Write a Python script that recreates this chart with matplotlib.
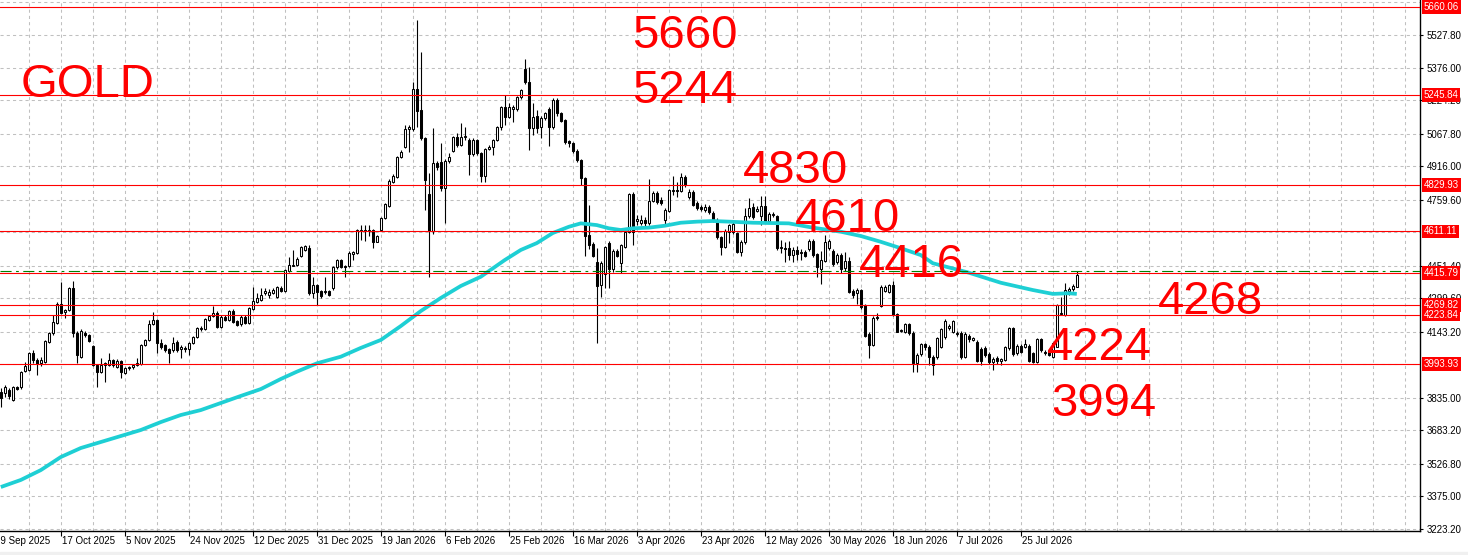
import matplotlib
matplotlib.use("Agg")
import matplotlib.pyplot as plt
from matplotlib.patches import Rectangle

# daily candles, GOLD
opens = [3864, 3856, 3872, 3825, 3886, 3884, 3961, 3965, 4043, 4010,
         3998, 4001, 4097, 4136, 4186, 4273, 4236, 4245, 4346, 4136,
         4027, 4139, 4128, 4077, 3988, 3957, 3990, 3988, 4012, 3981,
         4007, 3952, 3981, 3977, 3988, 3993, 4082, 4105, 4179, 4198,
         4090, 4082, 4062, 4058, 4097, 4065, 4068, 4065, 4090, 4117,
         4155, 4155, 4198, 4217, 4232, 4164, 4214, 4198, 4240, 4194,
         4179, 4214, 4186, 4250, 4284, 4292, 4325, 4315, 4326, 4307,
         4349, 4335, 4428, 4452, 4455, 4497, 4525, 4533, 4323, 4360,
         4334, 4330, 4334, 4346, 4444, 4478, 4450, 4450, 4508, 4512,
         4614, 4618, 4614, 4618, 4564, 4618, 4673, 4730, 4843, 4867,
         4957, 5004, 5090, 5088, 5276, 5178, 5046, 4786, 4615, 4929,
         4937, 4813, 4940, 4987, 5053, 5015, 5053, 5038, 4971, 5038,
         4976, 4871, 4995, 5007, 5038, 5097, 5190, 5147, 5181, 5181,
         5237, 5369, 5310, 5092, 5150, 5097, 5139, 5181, 5097, 5224,
         5162, 5131, 5033, 5022, 4985, 4944, 4859, 4595, 4553, 4470,
         4361, 4413, 4559, 4435, 4521, 4463, 4540, 4610, 4786, 4660,
         4649, 4665, 4652, 4755, 4792, 4758, 4665, 4708, 4800, 4805,
         4801, 4867, 4771, 4797, 4745, 4727, 4713, 4727, 4699, 4665,
         4584, 4540, 4610, 4610, 4603, 4517, 4564, 4683, 4724, 4707,
         4683, 4730, 4661, 4690, 4683, 4533, 4535, 4535, 4501, 4525,
         4510, 4517, 4528, 4568, 4506, 4435, 4475, 4533, 4521, 4470,
         4501, 4439, 4475, 4335, 4323, 4338, 4268, 4133, 4082, 4214,
         4264, 4335, 4330, 4361, 4226, 4148, 4144, 4179, 4137, 3996,
         4040, 4085, 4074, 4027, 4024, 4074, 4117, 4162, 4144, 4135,
         4139, 4027, 4124, 4105, 4097, 4062, 4066, 4040, 4004, 4020,
         4008, 4012, 4066, 4159, 4043, 4077, 4074, 4077, 4043, 4004,
         4108, 4050, 4058, 4027, 4074, 4225, 4222, 4335, 4341, 4354]
highs = [3881, 3895, 3880, 3892, 3890, 3962, 4000, 4050, 4058, 4020,
         4025, 4106, 4140, 4222, 4280, 4377, 4250, 4350, 4380, 4145,
         4155, 4145, 4135, 4080, 3995, 4021, 4000, 4044, 4018, 4015,
         4012, 3980, 3985, 3992, 4020, 4086, 4110, 4200, 4237, 4205,
         4110, 4088, 4068, 4120, 4105, 4080, 4075, 4095, 4122, 4165,
         4170, 4206, 4222, 4263, 4240, 4220, 4220, 4245, 4248, 4200,
         4220, 4220, 4258, 4354, 4326, 4346, 4348, 4345, 4346, 4356,
         4356, 4437, 4494, 4525, 4490, 4545, 4550, 4548, 4400, 4365,
         4340, 4400, 4340, 4450, 4485, 4485, 4455, 4518, 4520, 4625,
         4641, 4641, 4641, 4625, 4595, 4678, 4745, 4855, 4880, 4965,
         4990, 5108, 5110, 5310, 5598, 5450, 5050, 4882, 5094, 4940,
         5022, 4950, 4975, 5058, 5070, 5116, 5097, 5045, 5045, 5042,
         4980, 5000, 5015, 5042, 5102, 5195, 5248, 5210, 5200, 5242,
         5278, 5414, 5377, 5209, 5180, 5150, 5170, 5190, 5232, 5235,
         5168, 5135, 5040, 5030, 4995, 4950, 4865, 4735, 4560, 4533,
         4475, 4545, 4565, 4530, 4528, 4555, 4618, 4792, 4795, 4690,
         4690, 4680, 4855, 4800, 4800, 4770, 4720, 4810, 4870, 4840,
         4886, 4875, 4810, 4805, 4752, 4735, 4740, 4735, 4705, 4672,
         4590, 4622, 4648, 4660, 4610, 4570, 4719, 4766, 4745, 4730,
         4777, 4777, 4700, 4700, 4690, 4570, 4560, 4565, 4540, 4545,
         4530, 4525, 4575, 4575, 4510, 4520, 4595, 4575, 4530, 4510,
         4510, 4517, 4490, 4345, 4348, 4345, 4275, 4140, 4215, 4232,
         4360, 4360, 4365, 4382, 4232, 4155, 4185, 4185, 4145, 4045,
         4092, 4090, 4080, 4035, 4120, 4160, 4205, 4178, 4200, 4145,
         4145, 4140, 4135, 4120, 4105, 4070, 4075, 4048, 4025, 4030,
         4020, 4078, 4165, 4165, 4085, 4085, 4110, 4085, 4050, 4115,
         4115, 4058, 4065, 4097, 4275, 4307, 4372, 4350, 4365, 4428]
lows = [3792, 3840, 3830, 3820, 3872, 3878, 3955, 3960, 3996, 3942,
        3985, 3998, 4090, 4130, 4180, 4225, 4208, 4240, 4120, 3998,
        4020, 4120, 4095, 3985, 3887, 3950, 3911, 3985, 3980, 3975,
        3927, 3945, 3965, 3970, 3985, 3990, 4075, 4100, 4175, 4044,
        4065, 4050, 3996, 4050, 4050, 4020, 4050, 4035, 4085, 4112,
        4145, 4150, 4192, 4212, 4160, 4160, 4192, 4192, 4185, 4168,
        4172, 4180, 4180, 4245, 4278, 4285, 4315, 4300, 4320, 4300,
        4328, 4330, 4422, 4448, 4450, 4490, 4520, 4315, 4300, 4268,
        4300, 4320, 4310, 4340, 4438, 4440, 4400, 4445, 4478, 4505,
        4570, 4568, 4590, 4533, 4560, 4612, 4668, 4725, 4835, 4860,
        4952, 5000, 4984, 5080, 5100, 5040, 4711, 4400, 4600, 4900,
        4800, 4649, 4930, 4980, 5005, 5010, 5040, 4875, 4965, 4970,
        4841, 4841, 4990, 4968, 5032, 5085, 5108, 5140, 5120, 5175,
        5230, 5300, 4991, 5060, 5070, 5047, 5130, 5010, 5090, 5150,
        5120, 5020, 5004, 4975, 4935, 4828, 4497, 4530, 4490, 4092,
        4306, 4346, 4346, 4420, 4490, 4416, 4535, 4605, 4548, 4640,
        4640, 4630, 4640, 4748, 4740, 4735, 4641, 4700, 4780, 4770,
        4795, 4820, 4765, 4728, 4710, 4705, 4700, 4695, 4655, 4575,
        4501, 4535, 4557, 4600, 4510, 4497, 4555, 4675, 4670, 4700,
        4641, 4650, 4655, 4680, 4525, 4512, 4470, 4478, 4470, 4480,
        4478, 4490, 4520, 4490, 4397, 4366, 4470, 4525, 4450, 4460,
        4419, 4425, 4325, 4300, 4275, 4250, 4118, 4020, 4075, 4200,
        4258, 4328, 4325, 4215, 4140, 4140, 4138, 4130, 3957, 3957,
        4030, 4060, 3988, 3942, 4018, 4068, 4110, 4150, 4138, 4125,
        4018, 4020, 4095, 4098, 4000, 3990, 4025, 3995, 3965, 3995,
        3990, 4005, 4060, 4030, 4035, 4045, 4068, 4000, 3998, 3998,
        4050, 4035, 4028, 4020, 4070, 4220, 4215, 4315, 4335, 4350]
closes = [3834, 3887, 3844, 3887, 3878, 3957, 3983, 4043, 4012, 3995,
          4012, 4101, 4136, 4190, 4273, 4232, 4245, 4346, 4136, 4035,
          4148, 4128, 4101, 3988, 3957, 3988, 3996, 4012, 3988, 4007,
          3957, 3973, 3973, 3988, 3996, 4082, 4105, 4179, 4198, 4093,
          4071, 4058, 4043, 4093, 4058, 4071, 4062, 4090, 4117, 4159,
          4162, 4201, 4217, 4232, 4164, 4214, 4198, 4240, 4190, 4175,
          4214, 4186, 4253, 4288, 4299, 4315, 4334, 4330, 4338, 4351,
          4334, 4432, 4455, 4456, 4481, 4540, 4543, 4323, 4360, 4330,
          4310, 4334, 4315, 4444, 4478, 4444, 4446, 4512, 4514, 4618,
          4618, 4614, 4620, 4564, 4590, 4673, 4739, 4848, 4870, 4960,
          4983, 5088, 5100, 5276, 5175, 5046, 4851, 4615, 4929, 4913,
          4813, 4940, 4960, 5053, 5015, 5053, 5056, 4971, 5038, 4976,
          4871, 4995, 5007, 5038, 5097, 5190, 5147, 5190, 5190, 5237,
          5271, 5310, 5092, 5147, 5092, 5139, 5165, 5097, 5224, 5162,
          5128, 5030, 5022, 4985, 4944, 4860, 4590, 4548, 4497, 4357,
          4464, 4537, 4435, 4521, 4497, 4548, 4610, 4786, 4610, 4668,
          4665, 4652, 4755, 4792, 4750, 4743, 4711, 4805, 4805, 4798,
          4867, 4828, 4797, 4735, 4719, 4715, 4727, 4703, 4665, 4584,
          4540, 4615, 4641, 4646, 4517, 4564, 4683, 4719, 4677, 4715,
          4730, 4661, 4693, 4695, 4533, 4540, 4528, 4501, 4525, 4506,
          4517, 4497, 4568, 4501, 4444, 4478, 4564, 4568, 4459, 4501,
          4435, 4475, 4330, 4315, 4338, 4257, 4124, 4082, 4206, 4208,
          4354, 4354, 4361, 4222, 4144, 4151, 4179, 4137, 3997, 4035,
          4085, 4071, 4024, 3990, 4113, 4155, 4195, 4170, 4195, 4139,
          4024, 4133, 4108, 4113, 4008, 4008, 4035, 4004, 4015, 4008,
          4015, 4071, 4159, 4040, 4077, 4050, 4086, 4008, 4004, 4108,
          4058, 4043, 4035, 4090, 4268, 4232, 4338, 4341, 4357, 4408]

# moving average (bar index -> price)
ma_bars = [0, 5, 10, 15, 20, 25, 30, 35, 40, 45, 50, 55, 60, 65, 70, 74, 79, 85, 90,
           95, 100, 105, 110, 115, 120, 126, 130, 134, 138, 142, 145, 149, 152, 155,
           158, 162, 166, 170, 174, 178, 182, 188, 197, 203, 210, 215, 220, 225, 230,
           233, 242, 250, 258, 263, 267, 269]
ma_vals = [3419, 3452, 3498, 3559, 3601, 3629, 3657, 3685, 3722, 3755, 3778, 3811, 3844,
           3876, 3923, 3957, 3996, 4027, 4068, 4105, 4170, 4240, 4301, 4357, 4400, 4478,
           4525, 4557, 4604, 4633, 4649, 4641, 4626, 4618, 4626, 4629, 4638, 4652, 4657,
           4660, 4657, 4652, 4649, 4629, 4610, 4590, 4563, 4533, 4501, 4463, 4419, 4372,
           4338, 4320, 4323, 4320]

levels = [5660.06, 5245.84, 4829.93, 4611.11, 4415.79, 4269.82, 4223.84, 3993.93]
ask_price = 4425.0

grid_prices = [5679.6, 5527.8, 5376.0, 5224.2, 5067.8, 4916.0, 4759.6, 4607.8, 4451.4,
               4299.6, 4143.2, 3991.4, 3835.0, 3683.2, 3526.8, 3375.0, 3223.2]
label_prices = [5527.8, 5376.0, 5224.2, 5067.8, 4916.0, 4759.6, 4451.4,
                4299.6, 4143.2, 3835.0, 3683.2, 3526.8, 3375.0, 3223.2]

date_bars = [-1, 15, 31, 47, 63, 79, 95, 111, 127, 143, 159, 175, 191, 207, 223, 239, 255]
date_labels = ["29 Sep 2025", "17 Oct 2025", "5 Nov 2025", "24 Nov 2025", "12 Dec 2025",
               "31 Dec 2025", "19 Jan 2026", "6 Feb 2026", "25 Feb 2026", "16 Mar 2026",
               "3 Apr 2026", "23 Apr 2026", "12 May 2026", "30 May 2026", "18 Jun 2026",
               "7 Jul 2026", "25 Jul 2026"]

notes = ["GOLD", "5660", "5244", "4830", "4610", "4416", "4268", "4224", "3994"]
note_x = [5.05, 157.7, 157.7, 185.55, 198.4, 214.4, 289.3, 261.55, 262.55]
note_y = [5238, 5467, 5210, 4837, 4613, 4399, 4226, 4012, 3750]

W, H = 1468, 555
fig = plt.figure(figsize=(W / 100, H / 100), dpi=100)
fig.patch.set_facecolor("white")
ax = fig.add_axes([0, 24 / H, 1420 / W, 531 / H])
ax.set_xlim(-0.2, -0.2 + 1420 / 4)
ax.set_ylim(3213.9, 5691.0)

small = ["Liberation Sans", "DejaVu Sans"]

# grid
for p in grid_prices:
    ax.axhline(p, color="#c0c0c0", lw=0.75, ls=(0, (3, 3)), zorder=1)
for b in range(7, 355, 8):
    ax.axvline(b, color="#c0c0c0", lw=0.75, ls=(0, (3, 3)), zorder=1)

# candles
xs = list(range(len(opens)))
ax.vlines(xs, lows, highs, color="black", lw=0.8, zorder=3)
for i in xs:
    o, c = opens[i], closes[i]
    fill = "white" if c >= o else "black"
    ax.bar(i, max(abs(c - o), 0.5), bottom=min(o, c), width=0.5, color=fill,
           edgecolor="black", linewidth=0.75, zorder=4)

ax.plot(ma_bars, ma_vals, color="#1ecfd4", lw=2.7, zorder=5, solid_capstyle="butt")

for lv in levels:
    ax.axhline(lv, color="#ff0000", lw=0.8, zorder=6)
ask = ax.axhline(ask_price, color="#008000", lw=0.8, zorder=6)
ask.set_dashes([10, 4, 2.5, 4])

for s, x, y in zip(notes, note_x, note_y):
    ax.text(x, y, s, color="#ff0000", fontsize=34, family=small,
            ha="left", va="baseline", zorder=7)

# axes look
for side in ["top", "left"]:
    ax.spines[side].set_visible(False)
ax.spines["right"].set_linewidth(1.0)
ax.spines["bottom"].set_linewidth(1.0)

ax.yaxis.tick_right()
ax.set_yticks(label_prices)
ax.set_yticklabels([f"{v:.2f}" for v in label_prices], family=small, fontsize=7)
ax.tick_params(axis="y", direction="out", length=2.5, width=0.8, pad=2.5)

ax.set_xticks(date_bars[1:])
ax.set_xticklabels([])
ax.tick_params(axis="x", direction="out", length=3.5, width=0.8)
for b, s in zip(date_bars, date_labels):
    shift = 0.2 if b >= 0 else -0.45
    ax.text(b + shift, -5 / 531, s, transform=ax.get_xaxis_transform(), family=small,
            fontsize=7, ha="left", va="top", clip_on=False)

for lv in levels:
    ax.annotate(f"{lv:.2f}", xy=(1, lv), xycoords=("axes fraction", "data"),
                xytext=(3.5, 0), textcoords="offset pixels", ha="left", va="center",
                color="white", fontsize=7, family=small, zorder=10, annotation_clip=False,
                bbox=dict(boxstyle="square,pad=0.2", fc="#ff0000", ec="none"))

fig.patches.append(Rectangle((0, 0), 1, 3 / H, transform=fig.transFigure,
                             color="#f0f0f0", zorder=0))

fig.savefig("out.png", dpi=100)
